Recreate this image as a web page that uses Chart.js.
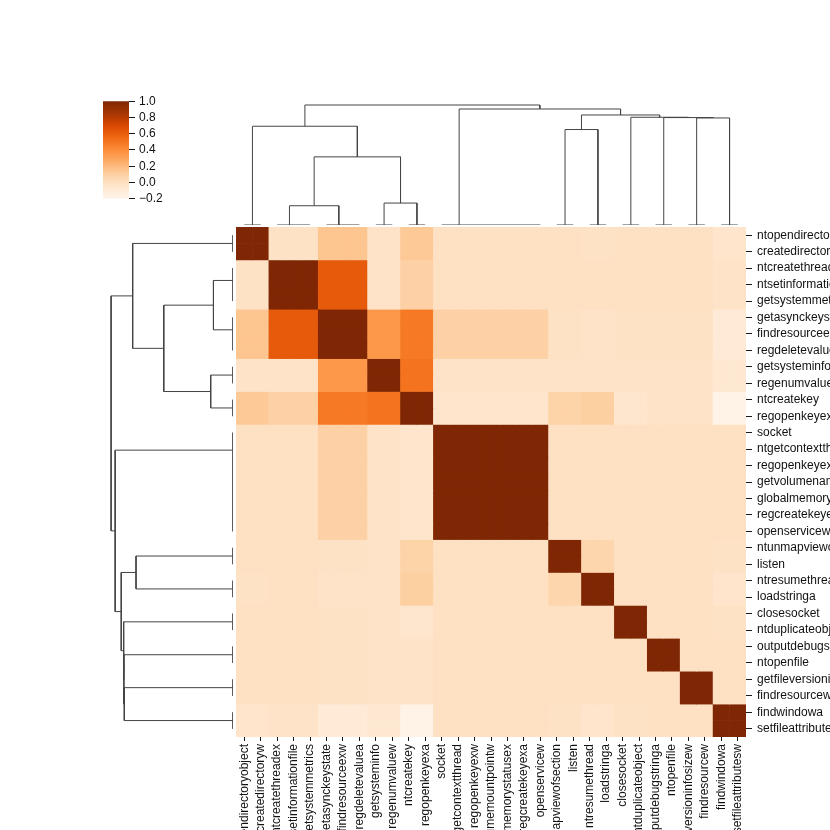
<!DOCTYPE html>
<html>
<head>
<meta charset="utf-8">
<script src="https://cdn.jsdelivr.net/npm/chart.js@4.4.1/dist/chart.umd.min.js"></script>
<style>
  html, body { margin: 0; padding: 0; background: #ffffff; }
  #wrap { position: relative; width: 830px; height: 830px; overflow: hidden; background: #ffffff; }
  canvas { position: absolute; }
</style>
</head>
<body>
<div id="wrap">
  <canvas id="heat" width="830" height="830" style="left:0px;top:0px;"></canvas>
  <canvas id="dtop" width="510" height="126" style="left:236px;top:99px;"></canvas>
  <canvas id="dleft" width="128" height="510" style="left:105px;top:227px;"></canvas>
  <canvas id="cbar" width="80" height="120" style="left:103px;top:90px;"></canvas>
</div>
<script>
// ---------------- DATA ----------------
const labels = ['ntopendirectoryobject','createdirectoryw','ntcreatethreadex','ntsetinformationfile',
  'getsystemmetrics','getasynckeystate','findresourceexw','regdeletevaluea','getsysteminfo',
  'regenumvaluew','ntcreatekey','regopenkeyexa','socket','ntgetcontextthread','regopenkeyexw',
  'getvolumenameforvolumemountpointw','globalmemorystatusex','regcreatekeyexa','openservicew',
  'ntunmapviewofsection','listen','ntresumethread','loadstringa','closesocket','ntduplicateobject',
  'outputdebugstringa','ntopenfile','getfileversioninfosizew','findresourcew','findwindowa',
  'setfileattributesw'];

// cluster (identical-feature group) of every label, in display order
const labelGroup = [0,0,1,1,1,2,2,2,3,3,4,4,5,5,5,5,5,5,5,6,6,7,7,8,8,9,9,10,10,11,11];

// correlation between groups
const groupCorr = [
  [ 1.00,-0.02, 0.15,-0.03, 0.13,-0.01,-0.01,-0.02,-0.01,-0.01,-0.01,-0.04],
  [-0.02, 1.00, 0.62,-0.03, 0.09,-0.01,-0.01,-0.01,-0.01,-0.01,-0.01,-0.03],
  [ 0.15, 0.62, 1.00, 0.355,0.485,0.09,-0.02,-0.03,-0.02,-0.02,-0.02,-0.09],
  [-0.03,-0.03, 0.355,1.00, 0.51,-0.03,-0.03,-0.03,-0.03,-0.03,-0.03,-0.07],
  [ 0.13, 0.09, 0.485,0.51, 1.00,-0.04, 0.08, 0.10,-0.05,-0.03,-0.03,-0.18],
  [-0.01,-0.01, 0.09,-0.03,-0.04, 1.00,-0.01,-0.01,-0.01,-0.01,-0.01,-0.01],
  [-0.01,-0.01,-0.02,-0.03, 0.08,-0.01, 1.00, 0.06,-0.01,-0.01,-0.01,-0.02],
  [-0.02,-0.01,-0.03,-0.03, 0.10,-0.01, 0.06, 1.00,-0.01,-0.01,-0.01,-0.04],
  [-0.01,-0.01,-0.02,-0.03,-0.05,-0.01,-0.01,-0.01, 1.00,-0.01,-0.01,-0.02],
  [-0.01,-0.01,-0.02,-0.03,-0.03,-0.01,-0.01,-0.01,-0.01, 1.00,-0.01,-0.01],
  [-0.01,-0.01,-0.02,-0.03,-0.03,-0.01,-0.01,-0.01,-0.01,-0.01, 1.00,-0.01],
  [-0.04,-0.03,-0.09,-0.07,-0.18,-0.01,-0.02,-0.04,-0.02,-0.01,-0.01, 1.00]
];

// dendrogram: zero-height groups (leaf index span and merged node position)
const groupStart   = [0, 2, 5, 8, 10, 12, 19, 21, 23, 25, 27, 29];
const groupEnd     = [1, 4, 7, 9, 11, 18, 20, 22, 24, 26, 28, 30];
const groupNodePos = [0.5, 2.75, 5.75, 8.5, 10.5, 13.0625, 19.5, 21.5, 23.5, 25.5, 27.5, 29.5];
// links: node ids 0-11 are groups, 12+ are links in this order
const linkA      = [1, 3, 12, 0, 6, 10, 9, 8, 16, 5, 15];
const linkB      = [2, 4, 13, 14, 7, 11, 17, 18, 19, 20, 21];
const linkHeight = [0.193, 0.220, 0.683, 0.990, 0.957, 1.073, 1.077, 1.080, 1.103, 1.163, 1.203];

const cbTicks = [-0.2, 0.0, 0.2, 0.4, 0.6, 0.8, 1.0];
const VMIN = -0.2, VMAX = 1.0;

// ---------------- STYLE ----------------
const FONT = "'Liberation Sans', Arial, sans-serif";
const FSIZE = 12;
const TXT = '#111111';
const LINE = '#444444';
const ORANGES = [[255,245,235],[254,230,206],[253,208,162],[253,174,107],[253,141,60],
                 [241,105,19],[217,72,1],[166,54,3],[127,39,4]];
function rgb(c){ return 'rgb(' + c.map(Math.round).join(',') + ')'; }
function orange(v){
  let t = (v - VMIN) / (VMAX - VMIN);
  t = Math.max(0, Math.min(1, t));
  const p = t * 8, i = Math.min(7, Math.floor(p)), f = p - i;
  const a = ORANGES[i], b = ORANGES[i + 1];
  return rgb([0,1,2].map(k => a[k] + (b[k] - a[k]) * f));
}
const N = labels.length, G = groupStart.length;
const cellValue = (r, c) => groupCorr[labelGroup[r]][labelGroup[c]];

const xGrid = { display: true, drawOnChartArea: false, drawTicks: true, tickLength: 4,
                tickWidth: 0.9, tickColor: '#000', offset: false };
const yGrid = { display: true, drawOnChartArea: false, drawTicks: true, tickLength: 6,
                tickWidth: 0.9, tickColor: '#000', offset: false };

// ---------------- HEATMAP ----------------
new Chart(document.getElementById('heat'), {
  type: 'bar',
  data: {
    labels: labels,
    datasets: labels.map((name, r) => ({
      label: name,
      data: labels.map(() => 1),
      backgroundColor: labels.map((_, c) => orange(cellValue(r, c))),
      borderWidth: 0,
      barPercentage: 1,
      categoryPercentage: 1,
      yAxisID: 'y',
      stack: 'rows'
    }))
  },
  options: {
    responsive: false, animation: false, events: [],
    layout: { padding: { left: 236, top: 227, right: 0, bottom: 0 } },
    plugins: { legend: { display: false }, tooltip: { enabled: false } },
    scales: {
      x: {
        type: 'category', position: 'bottom', stacked: true, offset: true,
        grid: xGrid, border: { display: false },
        ticks: { autoSkip: false, maxRotation: 90, minRotation: 90, padding: 3,
                 color: TXT, font: { family: FONT, size: FSIZE } },
        afterFit: s => { s.height = 93; }
      },
      y: { type: 'linear', stacked: true, min: 0, max: N, reverse: true, display: false },
      yl: {
        type: 'category', labels: labels, position: 'right', offset: true,
        grid: yGrid, border: { display: false },
        ticks: { autoSkip: false, padding: 5, color: TXT, font: { family: FONT, size: FSIZE } },
        afterFit: s => { s.width = 84; }
      }
    }
  }
});

// ---------------- DENDROGRAMS ----------------
function nodePos(id){ return id < G ? groupNodePos[id] : (nodePos(linkA[id-G]) + nodePos(linkB[id-G])) / 2; }
function nodeH(id){ return id < G ? 0 : linkHeight[id-G]; }
function dendroSets(swap){
  const P = (pos, h) => swap ? { x: h, y: pos } : { x: pos, y: h };
  const sets = [];
  for (let g = 0; g < G; g++) {
    sets.push({ data: [P(groupStart[g], 0), P(groupEnd[g], 0)] });
  }
  for (let k = 0; k < linkA.length; k++) {
    const a = linkA[k], b = linkB[k], h = linkHeight[k];
    sets.push({ data: [P(nodePos(a), nodeH(a)), P(nodePos(a), h), P(nodePos(b), h), P(nodePos(b), nodeH(b))] });
  }
  return sets.map(s => Object.assign(s, { showLine: true, pointRadius: 0, borderColor: LINE,
    borderWidth: 1, fill: false, tension: 0 }));
}
const hMax = Math.max(...linkHeight) * 1.05;
const baseOpts = { responsive: false, animation: false, events: [],
  layout: { padding: 0 }, plugins: { legend: { display: false }, tooltip: { enabled: false } } };

new Chart(document.getElementById('dtop'), {
  type: 'scatter',
  data: { datasets: dendroSets(false) },
  options: Object.assign({}, baseOpts, {
    scales: {
      x: { type: 'linear', min: -0.5, max: N - 0.5, display: false },
      y: { type: 'linear', min: 0, max: hMax, display: false }
    }
  })
});

new Chart(document.getElementById('dleft'), {
  type: 'scatter',
  data: { datasets: dendroSets(true) },
  options: Object.assign({}, baseOpts, {
    scales: {
      x: { type: 'linear', min: 0, max: hMax, reverse: true, display: false },
      y: { type: 'linear', min: -0.5, max: N - 0.5, reverse: true, display: false }
    }
  })
});

// ---------------- COLORBAR ----------------
new Chart(document.getElementById('cbar'), {
  type: 'bar',
  data: {
    labels: ['colorbar'],
    datasets: [{
      data: [[VMIN, VMAX]],
      barPercentage: 1, categoryPercentage: 1, borderWidth: 0,
      backgroundColor: (c) => {
        const ch = c.chart;
        if (!ch.chartArea) return 'rgba(0,0,0,0)';
        const ys = ch.scales.y;
        const grad = ch.ctx.createLinearGradient(0, ys.getPixelForValue(VMIN), 0, ys.getPixelForValue(VMAX));
        ORANGES.forEach((col, i) => grad.addColorStop(i / 8, rgb(col)));
        return grad;
      }
    }]
  },
  options: {
    responsive: false, animation: false, events: [],
    layout: { padding: { left: 0, right: 0, top: 9, bottom: 11 } },
    plugins: { legend: { display: false }, tooltip: { enabled: false } },
    scales: {
      x: { display: false },
      y: {
        position: 'right', min: VMIN, max: VMAX,
        afterBuildTicks: s => { s.ticks = cbTicks.map(v => ({ value: v })); },
        grid: { display: true, drawOnChartArea: false, drawTicks: true, tickLength: 6,
                tickWidth: 0.9, tickColor: '#000' },
        border: { display: false },
        ticks: { autoSkip: false, padding: 4, color: TXT, font: { family: FONT, size: FSIZE },
                 callback: v => (v < -1e-9 ? '\u2212' : '') + Math.abs(v).toFixed(1) },
        afterFit: s => { s.width = 54; }
      }
    }
  }
});
</script>
</body>
</html>
